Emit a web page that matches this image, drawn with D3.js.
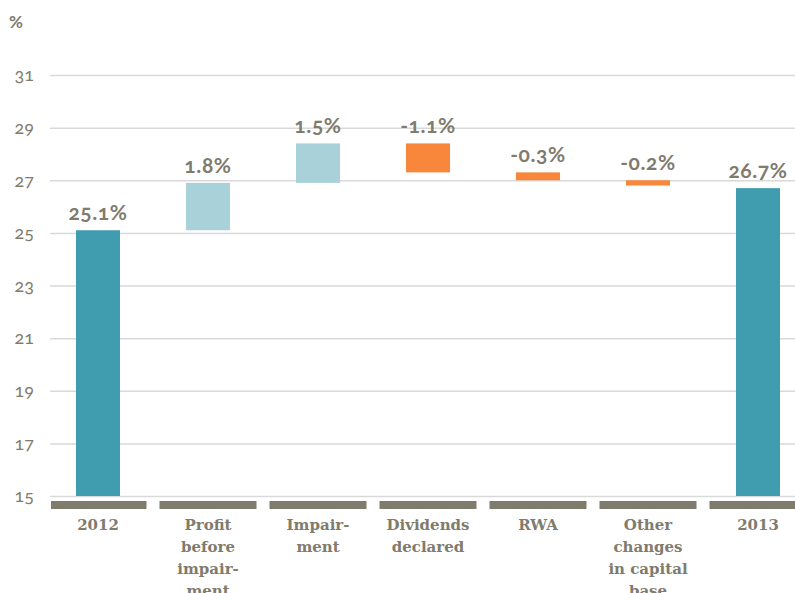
<!DOCTYPE html>
<html>
<head>
<meta charset="utf-8">
<script src="https://cdn.jsdelivr.net/npm/d3@7"></script>
<style>
  body { margin: 0; background: #fff; }
  svg text { font-family: Lato, "Open Sans", sans-serif; fill: #7f7b6d; font-variant-numeric: oldstyle-nums; }
</style>
</head>
<body>
<script>
// chart data
var categories = ["2012", "Profit before impairment", "Impairment", "Dividends declared", "RWA", "Other changes in capital base", "2013"];
var catLines = [["2012"], ["Profit", "before", "impair-", "ment"], ["Impair-", "ment"], ["Dividends", "declared"], ["RWA"], ["Other", "changes", "in capital", "base"], ["2013"]];
var values = [25.1, 1.8, 1.5, -1.1, -0.3, -0.2, 26.7];
var labels = ["25.1%", "1.8%", "1.5%", "-1.1%", "-0.3%", "-0.2%", "26.7%"];
var kinds = ["total", "up", "up", "down", "down", "down", "total"];
var yTicks = [15, 17, 19, 21, 23, 25, 27, 29, 31];

var W = 795, H = 593;
var colors = {total: "#409db0", up: "#a9d1da", down: "#f8873c"};

var svg = d3.select("body").append("svg")
  .attr("width", W)
  .attr("height", H);

var x = d3.scaleBand().domain(categories).range([43, 813]).paddingInner(0);
var y = d3.scaleLinear().domain([15, 31]).range([496, 75]);

// waterfall steps
var run = 0;
var bars = values.map(function(v, i){
  var lo, hi;
  if (kinds[i] == "total") { lo = 15; hi = v; run = v; }
  else { var s = run; run = run + v; lo = Math.min(s, run); hi = Math.max(s, run); }
  return {cat: categories[i], lo: lo, hi: hi, kind: kinds[i], label: labels[i]};
});

// grid + ticks
var yAxis = svg.append("g")
  .attr("transform", "translate(50,0)")
  .call(d3.axisLeft(y).tickValues(yTicks).tickSize(-745).tickPadding(16).tickFormat(d3.format("d")));
yAxis.select(".domain").remove();
yAxis.selectAll(".tick line").attr("stroke", "#d9d9d9").attr("stroke-width", 1.5);
yAxis.selectAll(".tick text").attr("font-size", 18).attr("fill", "#7f7b6d")
  .style("font-family", "Lato, sans-serif");

svg.append("text")
  .attr("x", 9).attr("y", 28)
  .attr("font-size", 17)
  .attr("font-weight", "bold")
  .text("%");

// ground strips under each category
svg.selectAll(".ground")
  .data(categories)
  .enter().append("rect")
  .attr("x", function(d){ return Math.max(51, x(d) + 6.5); })
  .attr("width", function(d){ return x(d) + x.bandwidth() - 6.5 - Math.max(51, x(d) + 6.5); })
  .attr("y", 501)
  .attr("height", 8)
  .attr("fill", "#7f7b6d");

var bw = 44;
svg.selectAll(".bar")
  .data(bars)
  .enter().append("rect")
  .attr("x", function(d){ return x(d.cat) + x.bandwidth() / 2 - bw / 2; })
  .attr("y", function(d){ return y(d.hi); })
  .attr("width", bw)
  .attr("height", function(d){ return y(d.lo) - y(d.hi); })
  .attr("fill", function(d){ return colors[d.kind]; });

svg.selectAll(".vlabel")
  .data(bars)
  .enter().append("text")
  .attr("x", function(d){ return x(d.cat) + x.bandwidth() / 2; })
  .attr("y", function(d){ return y(d.hi) - 10; })
  .attr("text-anchor", "middle")
  .attr("font-size", 21)
  .attr("letter-spacing", 0.6)
  .attr("font-weight", "bold")
  .text(function(d){ return d.label; });

// category labels
var cl = svg.selectAll(".cat")
  .data(categories)
  .enter().append("text")
  .attr("text-anchor", "middle")
  .attr("font-size", 15)
  .attr("font-weight", "bold")
  .style("font-family", "'DejaVu Serif', serif");
cl.each(function(d, i){
  var t = d3.select(this);
  catLines[i].forEach(function(line, j){
    t.append("tspan")
      .attr("x", x(d) + x.bandwidth() / 2)
      .attr("y", 530 + j * 22)
      .text(line);
  });
});
</script>
</body>
</html>
